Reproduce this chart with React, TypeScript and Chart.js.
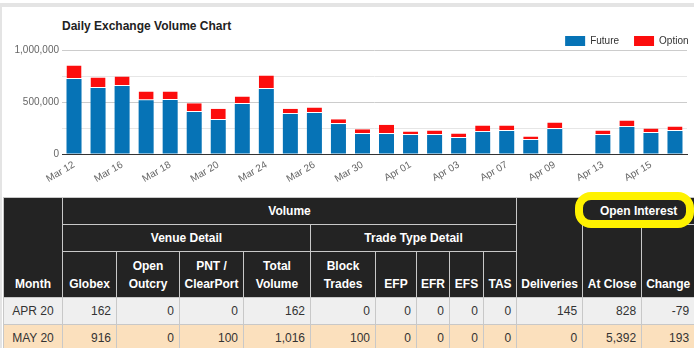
import React, { useEffect, useRef } from 'react';
import { Chart, registerables } from 'chart.js';

Chart.register(...registerables);

// ---------- chart data ----------
const categories = [
  'Mar 12', 'Mar 13', 'Mar 16', 'Mar 17', 'Mar 18', 'Mar 19', 'Mar 20', 'Mar 23', 'Mar 24', 'Mar 25',
  'Mar 26', 'Mar 27', 'Mar 30', 'Mar 31', 'Apr 01', 'Apr 02', 'Apr 03', 'Apr 06', 'Apr 07', 'Apr 08',
  'Apr 09', 'Apr 10', 'Apr 13', 'Apr 14', 'Apr 15', 'Apr 16',
];
const futureVolume = [
  720000, 635000, 654000, 517000, 519000, 404000, 327000, 481000, 625000, 385000,
  394000, 288000, 192000, 192000, 183000, 183000, 154000, 212000, 221000, 135000,
  240000, null, 183000, 260000, 202000, 221000,
];
const optionVolume = [
  132000, 101000, 92000, 85000, 83000, 83000, 109000, 73000, 131000, 51000,
  54000, 45000, 45000, 90000, 34000, 44000, 44000, 63000, 54000, 34000,
  64000, null, 44000, 63000, 44000, 44000,
];
const seriesNames = ['Future', 'Option'];
const chartTitle = 'Daily Exchange Volume Chart';
const yMin = 0;
const yMax = 1000000;
const yStep = 250000;
const yLabelStep = 500000;

// ---------- table data ----------
const months = ['APR 20', 'MAY 20'];
const globex = ['162', '916'];
const openOutcry = ['0', '0'];
const pntClearPort = ['0', '100'];
const totalVolume = ['162', '1,016'];
const blockTrades = ['0', '100'];
const efp = ['0', '0'];
const efr = ['0', '0'];
const efs = ['0', '0'];
const tas = ['0', '0'];
const deliveries = ['145', '0'];
const atClose = ['828', '5,392'];
const oiChange = ['-79', '193'];

const colWidths = [59, 54, 63, 64, 67, 65, 41, 33, 34, 33, 66, 59, 53];
const rowColors = ['#efefef', '#fbe0bd'];

const FONT = '"Liberation Sans", Arial, Helvetica, sans-serif';

const legendShift = {
  id: 'legendShift',
  afterLayout(chart: any) {
    if (chart.legend) chart.legend.right = 703.5;
  },
};

function VolumeChart() {
  const ref = useRef<HTMLCanvasElement | null>(null);
  useEffect(() => {
    if (!ref.current) return;
    Chart.defaults.font.family = FONT;
    const chart = new Chart(ref.current, {
      type: 'bar',
      data: {
        labels: categories,
        datasets: [
          {
            label: seriesNames[0],
            data: futureVolume,
            backgroundColor: '#0673b6',
            borderWidth: 0,
          },
          {
            label: seriesNames[1],
            data: optionVolume,
            backgroundColor: '#fc0d0d',
            borderColor: '#ffffff',
            borderWidth: { top: 0, left: 0, right: 0, bottom: 1 },
            borderSkipped: false,
          },
        ],
      },
      options: {
        responsive: false,
        animation: false,
        datasets: { bar: { categoryPercentage: 1, barPercentage: 0.625 } },
        layout: { padding: { top: 21, left: 0, right: 7, bottom: 0 } },
        plugins: {
          title: { display: false },
          tooltip: { enabled: false },
          legend: {
            display: true,
            position: 'top',
            align: 'end',
            maxHeight: 29,
            labels: {
              boxWidth: 20,
              boxHeight: 10,
              padding: 15,
              color: '#333',
              font: { size: 10, family: FONT },
              generateLabels: (c: any) =>
                (Chart.defaults.plugins.legend.labels as any)
                  .generateLabels(c)
                  .map((l: any) => ({ ...l, lineWidth: 0 })),
            },
          },
        },
        scales: {
          x: {
            stacked: true,
            grid: { display: false, drawTicks: false },
            border: { display: true, color: '#333', width: 1 },
            afterFit: (s: any) => {
              s.height = 42;
            },
            ticks: {
              autoSkip: false,
              minRotation: 30,
              maxRotation: 30,
              padding: 5,
              color: '#666',
              font: { size: 10, family: FONT },
              callback: (_v: any, i: number) => (i % 2 === 0 ? categories[i] : ''),
            },
          },
          y: {
            stacked: true,
            min: yMin,
            max: yMax,
            border: { display: false },
            grid: {
              drawTicks: false,
              color: (ctx: any) =>
                ctx.tick && ctx.tick.value === 0
                  ? '#333'
                  : ctx.tick && ctx.tick.value % yLabelStep === 0
                  ? '#cccccc'
                  : '#e6e6e6',
            },
            afterFit: (s: any) => {
              s.width = 62;
            },
            ticks: {
              stepSize: yStep,
              padding: 3,
              color: '#666',
              font: { size: 10, family: FONT },
              callback: (v: any) =>
                Number(v) % yLabelStep === 0 ? Number(v).toLocaleString('en-US') : '',
            },
          },
        },
      },
      plugins: [legendShift],
    } as any);
    return () => chart.destroy();
  }, []);
  return (
    <canvas
      ref={ref}
      width={694}
      height={196}
      style={{ position: 'absolute', left: 0, top: 0, width: 694, height: 196 }}
    />
  );
}

const thStyle: React.CSSProperties = {
  background: '#232323',
  color: '#fff',
  fontWeight: 'bold',
  border: '1px solid #c8c8c8',
  padding: '4px 4px',
  textAlign: 'center',
  verticalAlign: 'bottom',
  lineHeight: '18px',
  whiteSpace: 'nowrap',
  overflow: 'hidden',
};

const tdStyle: React.CSSProperties = {
  border: '1px solid #c8c8c8',
  padding: '4px 5px',
  lineHeight: '18px',
  textAlign: 'right',
  color: '#333',
  whiteSpace: 'nowrap',
};

function DataTable() {
  const cols = [globex, openOutcry, pntClearPort, totalVolume, blockTrades, efp, efr, efs, tas, deliveries, atClose, oiChange];
  return (
    <table
      style={{
        position: 'absolute',
        left: 3,
        top: 197,
        width: 691,
        tableLayout: 'fixed',
        borderCollapse: 'collapse',
        fontFamily: FONT,
        fontSize: 12,
      }}
    >
      <colgroup>
        {colWidths.map((w, i) => (
          <col key={i} style={{ width: w }} />
        ))}
      </colgroup>
      <thead>
        <tr>
          <th rowSpan={3} style={thStyle}>Month</th>
          <th colSpan={9} style={thStyle}>Volume</th>
          <th rowSpan={3} style={thStyle}>Deliveries</th>
          <th colSpan={2} style={thStyle}>Open Interest</th>
        </tr>
        <tr>
          <th colSpan={4} style={thStyle}>Venue Detail</th>
          <th colSpan={5} style={thStyle}>Trade Type Detail</th>
          <th rowSpan={2} style={thStyle}>At Close</th>
          <th rowSpan={2} style={thStyle}>Change</th>
        </tr>
        <tr>
          <th style={thStyle}>Globex</th>
          <th style={{ ...thStyle, paddingTop: 5 }}>Open<br />Outcry</th>
          <th style={{ ...thStyle, paddingTop: 5 }}>PNT /<br />ClearPort</th>
          <th style={{ ...thStyle, paddingTop: 5 }}>Total<br />Volume</th>
          <th style={{ ...thStyle, paddingTop: 5 }}>Block<br />Trades</th>
          <th style={thStyle}>EFP</th>
          <th style={thStyle}>EFR</th>
          <th style={thStyle}>EFS</th>
          <th style={thStyle}>TAS</th>
        </tr>
      </thead>
      <tbody>
        {months.map((m, r) => (
          <tr key={m} style={{ background: rowColors[r % 2] }}>
            <td style={{ ...tdStyle, textAlign: 'center' }}>{m}</td>
            {cols.map((c, i) => (
              <td key={i} style={tdStyle}>{c[r]}</td>
            ))}
          </tr>
        ))}
      </tbody>
    </table>
  );
}

export default function App() {
  return (
    <div
      style={{
        position: 'fixed',
        left: 0,
        top: 0,
        width: 694,
        height: 348,
        overflow: 'hidden',
        background: '#fff',
        fontFamily: FONT,
      }}
    >
      <div style={{ position: 'absolute', left: 0, top: 3, width: 694, height: 4, background: '#e4e4e4' }} />
      <div style={{ position: 'absolute', left: 0, top: 3, width: 2, height: 345, background: '#e4e4e4' }} />
      <div
        style={{
          position: 'absolute',
          left: 62,
          top: 19,
          fontSize: 12,
          lineHeight: '15px',
          fontWeight: 'bold',
          color: '#222',
          whiteSpace: 'nowrap',
        }}
      >
        {chartTitle}
      </div>
      <VolumeChart />
      <DataTable />
      <div
        style={{
          position: 'absolute',
          left: 575,
          top: 192,
          width: 119,
          height: 36,
          boxSizing: 'border-box',
          border: '8px solid #fff200',
          borderRadius: 16,
          pointerEvents: 'none',
        }}
      />
    </div>
  );
}
